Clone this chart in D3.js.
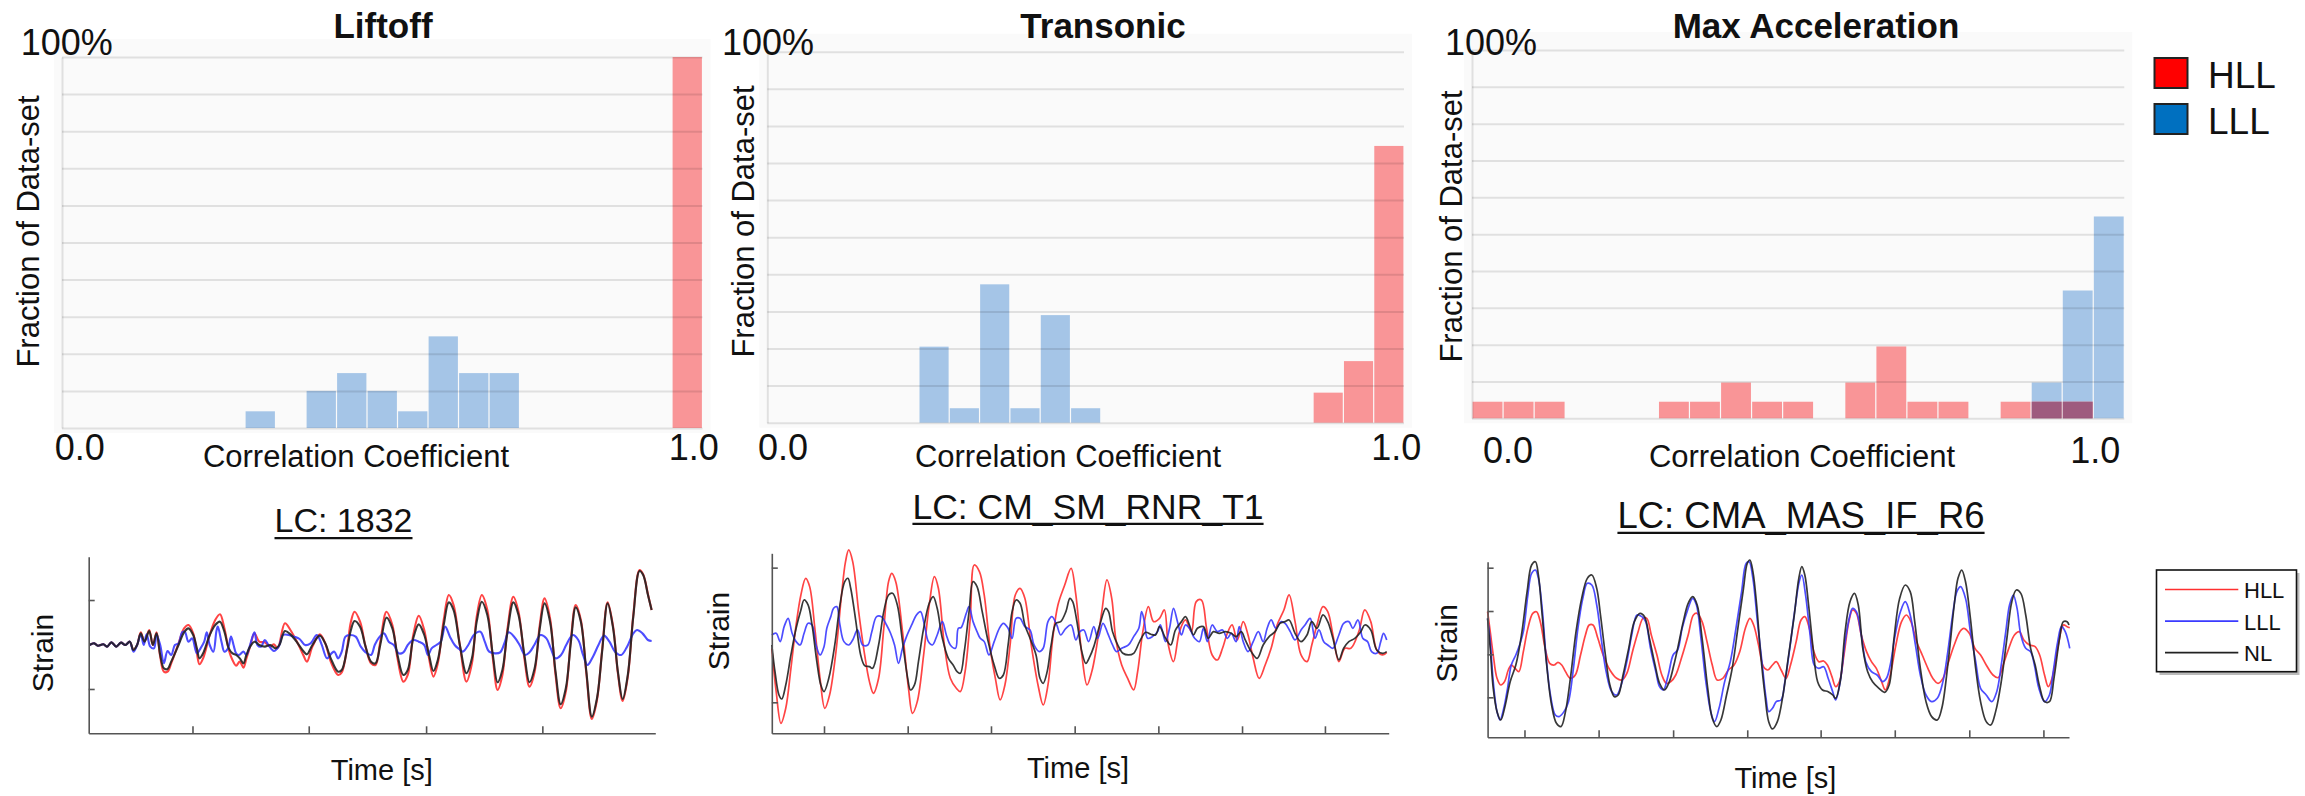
<!DOCTYPE html>
<html>
<head>
<meta charset="utf-8">
<script src="https://cdn.jsdelivr.net/npm/d3@7"></script>
<style>
  body { margin: 0; background: #fff; }
  text { font-family: "Liberation Sans", Arial, sans-serif; fill: #111; }
</style>
</head>
<body>
<svg id="fig" width="2305" height="796"></svg>
<script>
// 21 correlation bins, centred on 0.00, 0.05 ... 1.00
var binCenters = d3.range(21).map(function(i) { return i * 0.05 })
var pctTicks = d3.range(0, 101, 10)
var seriesNames = ['HLL', 'LLL', 'NL']

// fraction of data-set (%) in each bin
var liftoffHLL   = [0,0,0,0,0,0,0,0,0,0,0,0,0,0,0,0,0,0,0,0,100]
var liftoffLLL   = [0,0,0,0,0,0,4.5,0,10,14.8,10,4.5,24.7,14.8,14.8,0,0,0,0,0,0]
var transonicHLL = [0,0,0,0,0,0,0,0,0,0,0,0,0,0,0,0,0,0,8.1,16.6,74.6]
var transonicLLL = [0,0,0,0,0,20.5,3.9,37.3,3.9,29,3.9,0,0,0,0,0,0,0,0,0,0]
var maxAccHLL    = [4.5,4.5,4.5,0,0,0,4.5,4.5,9.7,4.5,4.5,0,9.7,19.5,4.5,4.5,0,4.5,4.5,4.5,0]
var maxAccLLL    = [0,0,0,0,0,0,0,0,0,0,0,0,0,0,0,0,0,0,9.7,34.7,54.8]

// strain time histories [time, strain] (arbitrary units)
var lc1832NL = [[12,0],[25,5],[35,-2],[50,2],[60,-5],[72,8],[85,-5],[98,7],[110,0],[122,10],[132,-15],[142,0],[152,35],[162,10],[175,42],[185,0],[195,35],[205,-30],[215,-70],[225,-72],[235,-50],[255,0],[270,38],[282,50],[295,30],[305,-10],[312,-40],[322,-25],[340,30],[355,60],[368,70],[380,40],[392,-10],[402,-25],[412,-30],[422,-40],[432,-55],[440,-30],[450,-5],[462,10],[475,0],[490,-5],[505,0],[520,-10],[530,0],[545,42],[560,32],[580,5],[595,-18],[605,-28],[620,0],[640,28],[655,5],[670,-40],[690,-80],[700,-75],[715,-10],[725,45],[735,72],[750,55],[765,-5],[780,-50],[792,-55],[805,0],[822,82],[838,50],[852,-30],[868,-90],[880,-75],[895,20],[910,62],[925,30],[938,-30],[950,-78],[962,-45],[978,60],[992,128],[1005,105],[1022,0],[1040,-85],[1055,-40],[1068,70],[1082,130],[1097,90],[1112,-30],[1125,-112],[1138,-75],[1152,40],[1168,128],[1182,90],[1198,-30],[1212,-112],[1226,-70],[1240,50],[1253,125],[1268,70],[1283,-80],[1297,-178],[1311,-130],[1325,10],[1338,113],[1352,70],[1367,-80],[1382,-215],[1396,-160],[1410,-20],[1425,125],[1440,50],[1453,-80],[1466,-162],[1480,-90],[1495,85],[1512,222],[1522,210],[1535,150],[1545,105]]
var lc1832HLL = [[12,0],[25,5],[35,-2],[50,2],[60,-5],[72,8],[85,-5],[98,7],[110,0],[122,10],[132,-15],[142,0],[152,38],[162,10],[175,45],[185,0],[195,38],[205,-35],[215,-80],[225,-80],[235,-55],[255,5],[270,50],[282,60],[295,35],[305,-25],[312,-58],[322,-40],[340,30],[355,75],[368,92],[380,50],[392,-15],[402,-45],[412,-62],[422,-50],[432,-68],[440,-40],[450,-5],[462,35],[475,10],[490,8],[505,-5],[515,2],[525,-10],[545,65],[560,45],[580,5],[595,-30],[605,-50],[620,-5],[640,32],[655,5],[670,-50],[690,-90],[700,-82],[715,-5],[725,70],[735,100],[750,70],[765,-5],[780,-55],[792,-60],[805,10],[822,100],[838,60],[852,-40],[868,-110],[880,-90],[895,30],[910,88],[925,45],[938,-40],[950,-95],[962,-55],[978,75],[992,150],[1005,120],[1022,0],[1040,-110],[1055,-55],[1068,85],[1082,150],[1097,105],[1112,-40],[1125,-135],[1138,-90],[1152,50],[1168,145],[1182,100],[1198,-40],[1212,-125],[1226,-80],[1240,60],[1253,140],[1268,80],[1283,-90],[1297,-190],[1311,-140],[1325,20],[1338,120],[1352,75],[1367,-85],[1382,-222],[1396,-165],[1410,-15],[1425,128],[1440,55],[1453,-85],[1466,-168],[1480,-95],[1495,90],[1512,225],[1522,212],[1535,152],[1545,105]]
var lc1832LLL = [[12,0],[25,5],[35,-2],[50,2],[60,-5],[72,8],[85,-5],[98,7],[110,0],[122,10],[132,-20],[142,0],[152,32],[160,0],[168,32],[178,-5],[188,-10],[195,30],[205,0],[215,-55],[225,-18],[235,-30],[245,0],[255,5],[265,38],[272,40],[282,10],[292,20],[305,-25],[315,-10],[325,10],[332,38],[340,0],[350,-20],[358,40],[362,55],[372,10],[380,-20],[390,-10],[398,25],[405,0],[412,-25],[420,-30],[432,-20],[440,-30],[450,0],[462,38],[470,0],[480,-5],[490,15],[500,0],[515,-18],[528,-5],[540,30],[555,30],[570,25],[585,18],[600,0],[615,5],[632,30],[645,2],[660,-40],[672,-25],[680,-20],[690,-40],[700,-20],[710,25],[722,30],[738,25],[752,-5],[765,-22],[780,-30],[790,0],[800,20],[815,35],[828,10],[842,0],[855,-25],[868,-22],[880,0],[895,15],[910,10],[925,0],[935,-30],[945,-10],[958,0],[970,10],[982,55],[995,25],[1008,0],[1020,-12],[1030,-20],[1045,0],[1060,30],[1078,40],[1090,10],[1102,-20],[1118,-25],[1132,-22],[1145,10],[1155,38],[1170,25],[1185,0],[1200,-30],[1212,-22],[1225,0],[1242,30],[1258,20],[1270,-10],[1283,-40],[1298,-30],[1312,0],[1330,30],[1345,15],[1358,-30],[1370,-60],[1385,-35],[1400,0],[1415,28],[1430,10],[1445,-20],[1462,-30],[1478,-5],[1495,35],[1505,45],[1520,35],[1535,15],[1545,12]]

var rnrNL = [[17,-30],[25,-110],[35,-180],[42,-192],[52,-150],[65,-60],[78,20],[90,75],[98,105],[108,90],[118,30],[130,-80],[140,-150],[148,-170],[160,-130],[175,-30],[188,90],[200,160],[208,170],[215,140],[228,40],[240,-60],[250,-92],[262,-95],[270,-100],[285,-30],[298,70],[310,120],[320,125],[332,90],[345,-20],[358,-130],[365,-165],[375,-150],[385,-80],[398,20],[412,95],[422,115],[432,80],[445,-10],[460,-70],[472,-90],[482,-110],[490,-115],[500,-50],[512,70],[522,160],[532,145],[545,70],[560,-20],[575,-90],[588,-130],[598,-120],[610,-30],[620,70],[630,105],[640,95],[652,30],[665,-10],[680,-60],[690,-130],[698,-145],[708,-110],[718,-30],[730,35],[742,40],[755,70],[765,110],[772,100],[782,45],[795,-50],[805,-85],[815,-65],[825,-35],[840,30],[855,80],[862,70],[872,10],[885,-30],[898,-55],[912,-60],[925,-55],[940,-20],[955,8],[968,2],[980,0],[990,25],[1005,-10],[1018,-30],[1030,15],[1045,40],[1055,55],[1065,30],[1075,0],[1085,20],[1100,25],[1112,-10],[1125,10],[1140,5],[1155,10],[1170,5],[1182,-5],[1195,10],[1205,-15],[1220,-50],[1235,-70],[1250,-30],[1265,-5],[1280,10],[1292,35],[1305,40],[1315,45],[1330,5],[1345,-20],[1360,0],[1372,40],[1385,20],[1400,60],[1412,40],[1425,-10],[1440,-75],[1452,-40],[1465,-20],[1480,-10],[1495,10],[1505,30],[1520,15],[1535,-45],[1550,-55],[1560,-50]]
var rnrHLL = [[17,-40],[28,-170],[40,-265],[52,-220],[65,-100],[78,30],[90,120],[102,170],[112,145],[125,20],[138,-130],[150,-220],[162,-180],[178,-50],[192,120],[202,220],[210,255],[220,220],[235,70],[250,-60],[262,-140],[272,-175],[285,-130],[298,20],[310,160],[318,185],[328,160],[345,10],[360,-160],[370,-235],[382,-200],[398,-60],[412,90],[425,175],[435,140],[450,-30],[465,-130],[480,-160],[490,-170],[502,-110],[515,50],[525,210],[538,190],[550,120],[565,-40],[578,-130],[590,-195],[602,-150],[615,-30],[628,120],[640,140],[652,110],[668,-30],[685,-150],[698,-210],[710,-150],[722,-10],[735,90],[752,150],[768,200],[780,120],[795,-60],[808,-150],[820,-110],[830,-50],[845,70],[858,165],[870,110],[880,-10],[895,-90],[910,-130],[925,-165],[935,-110],[948,10],[962,85],[975,40],[990,50],[1002,75],[1012,-30],[1025,-80],[1040,10],[1055,45],[1070,10],[1082,100],[1095,105],[1108,20],[1122,-60],[1135,-75],[1148,-40],[1160,5],[1172,30],[1185,-15],[1200,40],[1212,0],[1225,-70],[1240,-130],[1255,-90],[1270,-40],[1285,30],[1302,75],[1315,120],[1330,40],[1345,-60],[1360,-80],[1372,-30],[1385,30],[1400,85],[1412,70],[1425,0],[1440,-80],[1455,-40],[1470,-40],[1490,10],[1505,75],[1520,40],[1535,-45],[1550,-60],[1560,-52]]
var rnrLLL = [[17,0],[28,5],[38,-20],[48,25],[58,50],[68,5],[78,-20],[88,-30],[98,5],[108,35],[118,30],[128,-30],[138,-60],[148,-35],[155,20],[165,55],[172,80],[180,85],[188,30],[198,-20],[210,-30],[220,-15],[232,15],[245,-30],[258,-30],[268,10],[280,55],[292,55],[305,30],[315,5],[325,-30],[335,-85],[345,-40],[355,-5],[368,30],[380,60],[390,70],[400,30],[410,-20],[420,-30],[432,0],[445,40],[455,0],[465,-30],[478,-40],[485,20],[492,22],[505,65],[512,85],[522,40],[532,10],[540,-10],[550,-20],[562,-60],[575,-20],[588,20],[598,35],[610,20],[620,-10],[630,50],[640,50],[652,25],[665,15],[675,-30],[688,-50],[698,-40],[710,40],[720,55],[732,30],[742,0],[755,20],[768,30],[780,-15],[790,10],[800,15],[812,-20],[825,25],[835,-10],[848,35],[860,5],[872,-30],[882,-50],[895,-40],[912,-30],[925,-5],[938,20],[945,70],[952,40],[960,-10],[972,-5],[985,10],[992,30],[1005,-20],[1015,20],[1025,80],[1035,40],[1045,0],[1055,30],[1065,20],[1078,-10],[1090,-20],[1100,20],[1110,-20],[1122,30],[1135,10],[1148,15],[1160,-10],[1170,5],[1182,-20],[1190,25],[1200,-20],[1212,-50],[1225,-20],[1238,10],[1250,-20],[1260,20],[1270,45],[1282,20],[1295,40],[1305,35],[1318,10],[1330,-15],[1345,15],[1355,30],[1368,50],[1380,-10],[1390,15],[1402,-20],[1412,-30],[1425,-40],[1440,0],[1452,35],[1465,40],[1475,20],[1488,45],[1500,-10],[1512,-20],[1522,-50],[1535,-55],[1545,-20],[1552,5],[1560,-15]]

var r6NL = [[15,110],[22,20],[30,-100],[40,-170],[50,-195],[62,-150],[75,-80],[90,-30],[105,60],[120,190],[132,270],[142,280],[150,240],[160,120],[172,-30],[185,-150],[198,-205],[210,-215],[222,-170],[235,-70],[250,70],[265,170],[280,230],[292,240],[305,200],[315,120],[328,0],[340,-90],[352,-125],[362,-120],[375,-60],[390,20],[405,100],[420,125],[432,115],[445,50],[460,-30],[472,-85],[485,-105],[498,-80],[510,-30],[522,30],[535,100],[548,155],[560,175],[572,150],[585,50],[600,-100],[612,-190],[624,-215],[635,-195],[650,-120],[665,-40],[680,80],[695,200],[705,275],[712,285],[720,250],[730,150],[740,10],[752,-120],[762,-200],[772,-222],[785,-200],[800,-120],[815,0],[830,120],[842,230],[850,265],[858,240],[868,150],[880,20],[892,-80],[905,-105],[920,-110],[932,-120],[940,-130],[952,-80],[965,70],[978,160],[990,185],[1000,150],[1012,20],[1025,-50],[1038,-80],[1055,-100],[1070,-112],[1082,-90],[1095,50],[1110,170],[1125,210],[1138,190],[1150,100],[1165,-40],[1180,-140],[1195,-185],[1210,-195],[1222,-160],[1238,-30],[1255,150],[1265,230],[1275,255],[1285,220],[1298,110],[1312,-40],[1325,-140],[1340,-200],[1352,-210],[1365,-170],[1380,-80],[1395,50],[1408,160],[1420,195],[1432,185],[1445,120],[1458,20],[1470,-30],[1482,-95],[1495,-140],[1508,-140],[1520,-70],[1535,50],[1545,100],[1555,100],[1560,90]]
var r6LLL = [[15,110],[22,40],[30,-80],[40,-170],[48,-195],[58,-160],[68,-100],[78,-30],[90,0],[100,30],[110,70],[122,180],[132,245],[142,255],[150,230],[160,140],[170,0],[182,-120],[195,-180],[205,-185],[218,-170],[230,-140],[242,-50],[255,80],[268,170],[280,215],[292,210],[305,150],[318,40],[330,-50],[345,-110],[358,-120],[370,-90],[385,-20],[398,60],[412,120],[425,115],[435,100],[448,20],[462,-50],[472,-95],[482,-105],[495,-60],[508,0],[520,15],[532,80],[545,130],[560,170],[570,150],[582,50],[595,-80],[608,-170],[618,-200],[630,-160],[645,-80],[660,-20],[675,80],[690,190],[702,275],[710,280],[720,230],[732,100],[745,-30],[755,-130],[762,-170],[772,-160],[782,-140],[795,-135],[805,-80],[818,20],[832,140],[843,220],[850,240],[860,180],[872,60],[883,-30],[895,-40],[908,-35],[920,-70],[932,-110],[940,-135],[952,-80],[965,40],[978,120],[985,140],[995,130],[1008,60],[1020,-20],[1035,-50],[1050,-60],[1065,-80],[1075,-70],[1085,-30],[1098,60],[1112,130],[1125,160],[1138,120],[1152,30],[1165,-60],[1180,-120],[1195,-140],[1210,-130],[1225,-80],[1238,10],[1252,130],[1262,190],[1272,205],[1285,170],[1298,70],[1312,-20],[1325,-100],[1340,-120],[1355,-140],[1368,-110],[1380,-30],[1392,70],[1402,150],[1412,180],[1422,140],[1432,60],[1445,20],[1458,10],[1468,-30],[1480,-100],[1495,-140],[1508,-120],[1518,-50],[1530,40],[1540,85],[1550,70],[1562,20]]
var r6HLL = [[15,130],[22,70],[30,0],[40,-70],[50,-90],[60,-80],[70,-45],[78,-30],[88,-40],[98,-50],[110,10],[122,80],[135,125],[145,130],[155,100],[168,20],[180,-25],[192,-30],[202,-22],[212,-30],[222,-50],[235,-70],[248,-60],[262,0],[275,60],[285,90],[295,90],[308,50],[322,0],[340,-45],[358,-70],[372,-75],[385,-55],[400,10],[415,70],[428,110],[438,110],[450,60],[465,0],[478,-60],[490,-85],[502,-80],[515,-60],[530,-10],[548,60],[562,120],[572,125],[585,100],[598,40],[612,-30],[625,-75],[640,-70],[655,-45],[670,-30],[685,10],[700,80],[712,110],[722,90],[735,30],[748,-35],[760,-45],[772,-30],[782,-20],[795,-45],[808,-70],[820,-30],[835,40],[848,105],[858,115],[870,80],[882,10],[895,-20],[908,-18],[918,-30],[930,-65],[940,-95],[950,-80],[962,0],[975,100],[985,135],[995,125],[1008,60],[1022,10],[1035,-20],[1048,-40],[1062,-80],[1072,-105],[1085,-60],[1100,30],[1115,100],[1128,120],[1140,100],[1155,40],[1170,0],[1185,-40],[1198,-70],[1212,-85],[1225,-70],[1240,-20],[1255,30],[1270,70],[1280,80],[1295,65],[1310,20],[1325,0],[1340,-30],[1358,-60],[1372,-68],[1385,-30],[1400,20],[1415,60],[1428,70],[1440,45],[1455,30],[1470,25],[1482,0],[1495,-60],[1505,-95],[1515,-70],[1530,20],[1545,90],[1555,85],[1562,82]]

// axis ticks (unlabelled in the original)
var lc1832TimeTicks = [293, 610, 930, 1247]
var lc1832StrainTicks = [-132, 135]
var rnrTimeTicks = [148, 358, 567, 777, 987, 1197, 1405]
var rnrStrainTicks = [-202, 202]
var r6TimeTicks = [113, 310, 508, 705, 900, 1097, 1295, 1492]
var r6StrainTicks = [-127, 2, 132, 262]

var svg = d3.select('#fig')
var colHLL = '#f99597', colLLL = '#a5c5e7', colBoth = '#9e5b7e'
var lineColor = {HLL: '#ff3030', LLL: '#3a3aff', NL: '#222222'}

// ---------- histograms (top row) ----------
var histPanels = [
    {title: 'Liftoff', hll: liftoffHLL, lll: liftoffLLL, x0: 62, x1: 702.5, y0: 57, y1: 428,
     titleX: 383, pctX: 20.7, fracX: 39, fracY: 231.5, nudge0: 2, nudge1: 6, labY: 460, corrX: 356},
    {title: 'Transonic', hll: transonicHLL, lll: transonicLLL, x0: 767.3, x1: 1404, y0: 51.7, y1: 422.7,
     titleX: 1103, pctX: 722, fracX: 754, fracY: 221.5, nudge0: 0, nudge1: 7, labY: 460, corrX: 1068},
    {title: 'Max Acceleration', hll: maxAccHLL, lll: maxAccLLL, x0: 1472, x1: 2124.3, y0: 50, y1: 418.3,
     titleX: 1816, pctX: 1445, fracX: 1462, fracY: 226.5, nudge0: 20, nudge1: -14, labY: 463, corrX: 1802}
]

histPanels.forEach(function(p) {
    var x = d3.scaleLinear().domain([-0.025, 1.025]).range([p.x0, p.x1])
    var y = d3.scaleLinear().domain([0, 100]).range([p.y1, p.y0])
    var bw = x(0.05) - x(0)

    // light panel background
    svg.append('rect')
        .attr('x', p.x0 - 8).attr('y', p.y0 - 18)
        .attr('width', p.x1 - p.x0 + 16).attr('height', p.y1 - p.y0 + 23)
        .attr('fill', '#fafafa')

    var g = svg.append('g')

    function bars(vals, color) {
        g.selectAll(null)
            .data(binCenters.map(function(c, i) { return {c: c, v: vals[i]} }).filter(function(d) { return d.v > 0 }))
            .enter().append('rect')
            .attr('x', function(d) { return x(d.c - 0.025) + 0.6 })
            .attr('width', bw - 1.2)
            .attr('y', function(d) { return y(d.v) })
            .attr('height', function(d) { return y(0) - y(d.v) })
            .attr('fill', color)
    }
    bars(p.lll, colLLL)
    bars(p.hll, colHLL)
    // where both distributions share a bin the overlap shows darker
    bars(p.hll.map(function(v, i) { return Math.min(v, p.lll[i]) }), colBoth)

    // gridlines drawn over the bars
    var grid = svg.append('g')
        .attr('transform', 'translate(' + p.x0 + ',0)')
        .call(d3.axisLeft(y).tickValues(pctTicks).tickSize(-(p.x1 - p.x0)).tickSizeOuter(0).tickFormat(''))
    grid.selectAll('line').attr('stroke', 'rgba(0,0,0,0.1)').attr('stroke-width', 2)
    grid.select('.domain').attr('stroke', 'rgba(0,0,0,0.1)').attr('stroke-width', 2)

    // x labels 0.0 / 1.0
    var xa = svg.append('g')
        .attr('transform', 'translate(0,' + p.y1 + ')')
        .call(d3.axisBottom(x).tickValues([0, 1]).tickSize(0).tickFormat(d3.format('.1f')))
    xa.select('.domain').remove()
    xa.selectAll('text')
        .attr('y', p.labY - p.y1).attr('dy', 0)
        .attr('dx', function(d) { return d === 0 ? p.nudge0 : p.nudge1 })
        .style('font-size', '36px').style('font-family', '"Liberation Sans", Arial, sans-serif')
        .attr('fill', '#111')

    svg.append('text')
        .attr('x', p.titleX).attr('y', 38)
        .attr('text-anchor', 'middle')
        .style('font-size', '35px').style('font-weight', 'bold')
        .text(p.title)

    svg.append('text')
        .attr('x', p.pctX).attr('y', 55)
        .style('font-size', '36px')
        .text('100%')

    svg.append('text')
        .attr('transform', 'translate(' + p.fracX + ',' + p.fracY + ') rotate(-90)')
        .attr('text-anchor', 'middle')
        .style('font-size', '31px')
        .text('Fraction of Data-set')

    svg.append('text')
        .attr('x', p.corrX).attr('y', 467)
        .attr('text-anchor', 'middle')
        .style('font-size', '31px')
        .text('Correlation Coefficient')
})

// legend for the histograms
var legTop = [{name: 'HLL', color: '#ff0000', y: 58}, {name: 'LLL', color: '#0070c0', y: 104}]
legTop.forEach(function(d) {
    svg.append('rect')
        .attr('x', 2154.5).attr('y', d.y).attr('width', 33).attr('height', 30)
        .attr('fill', d.color).attr('stroke', '#222').attr('stroke-width', 2)
    svg.append('text')
        .attr('x', 2208).attr('y', d.y + 29.5)
        .style('font-size', '37px')
        .text(d.name)
})

// ---------- time histories (bottom row) ----------
var linePanels = [
    {title: 'LC: 1832', fs: 34, titleX: 343.5, titleY: 531.7, ul: 6.5, sw: 2.1,
     x0: 88.7, x1: 655.3, y0: 556.7, y1: 733.3, tDom: [10, 1555], vDom: [-265, 265],
     tTicks: lc1832TimeTicks, vTicks: lc1832StrainTicks, series: {HLL: lc1832HLL, LLL: lc1832LLL, NL: lc1832NL},
     strainX: 52.8, strainY: 653, timeX: 381.8, timeY: 780},
    {title: 'LC: CM_SM_RNR_T1', fs: 35.5, titleX: 1088, titleY: 519.3, ul: 4.5, sw: 1.7,
     x0: 771.8, x1: 1388.7, y0: 553.3, y1: 733.3, tDom: [17, 1565], vDom: [-295, 245],
     tTicks: rnrTimeTicks, vTicks: rnrStrainTicks, series: {HLL: rnrHLL, LLL: rnrLLL, NL: rnrNL},
     strainX: 729, strainY: 631, timeX: 1078, timeY: 778.3},
    {title: 'LC: CMA_MAS_IF_R6', fs: 36.5, titleX: 1801, titleY: 528.3, ul: 4.5, sw: 1.7,
     x0: 1487.6, x1: 2069, y0: 561.7, y1: 737.3, tDom: [15, 1560], vDom: [-247, 280],
     tTicks: r6TimeTicks, vTicks: r6StrainTicks, series: {HLL: r6HLL, LLL: r6LLL, NL: r6NL},
     strainX: 1456.7, strainY: 643.3, timeX: 1785.4, timeY: 788.3}
]

linePanels.forEach(function(p) {
    var x = d3.scaleLinear().domain(p.tDom).range([p.x0, p.x1])
    var y = d3.scaleLinear().domain(p.vDom).range([p.y1, p.y0])

    var line = d3.line()
        .x(function(d) { return x(d[0]) })
        .y(function(d) { return y(d[1]) })
        .curve(d3.curveCatmullRom.alpha(0.5))

    ;['HLL', 'LLL', 'NL'].forEach(function(k) {
        svg.append('path')
            .datum(p.series[k])
            .attr('d', line)
            .attr('fill', 'none')
            .attr('stroke', lineColor[k])
            .attr('stroke-width', p.sw)
            .attr('stroke-opacity', 0.9)
    })

    var ya = svg.append('g')
        .attr('transform', 'translate(' + p.x0 + ',0)')
        .call(d3.axisLeft(y).tickValues(p.vTicks).tickSize(-6).tickSizeOuter(0).tickFormat(''))
    var xa = svg.append('g')
        .attr('transform', 'translate(0,' + p.y1 + ')')
        .call(d3.axisBottom(x).tickValues(p.tTicks).tickSize(-7).tickSizeOuter(0).tickFormat(''))
    ;[ya, xa].forEach(function(a) {
        a.selectAll('line, path').attr('stroke', '#555').attr('stroke-width', 1.6)
    })

    var t = svg.append('text')
        .attr('x', p.titleX).attr('y', p.titleY)
        .attr('text-anchor', 'middle')
        .style('font-size', p.fs + 'px')
        .text(p.title)
    var len = t.node().getComputedTextLength()
    svg.append('line')
        .attr('x1', p.titleX - len / 2).attr('x2', p.titleX + len / 2)
        .attr('y1', p.titleY + p.ul).attr('y2', p.titleY + p.ul)
        .attr('stroke', '#111').attr('stroke-width', 2.2)

    svg.append('text')
        .attr('transform', 'translate(' + p.strainX + ',' + p.strainY + ') rotate(-90)')
        .attr('text-anchor', 'middle')
        .style('font-size', '30px')
        .text('Strain')

    svg.append('text')
        .attr('x', p.timeX).attr('y', p.timeY)
        .attr('text-anchor', 'middle')
        .style('font-size', '29px')
        .text('Time [s]')
})

// legend for the time histories
svg.append('rect')
    .attr('x', 2159.5).attr('y', 573).attr('width', 140).attr('height', 102)
    .attr('fill', '#bbb')
svg.append('rect')
    .attr('x', 2156.5).attr('y', 570).attr('width', 140).attr('height', 101.7)
    .attr('fill', '#fff').attr('stroke', '#111').attr('stroke-width', 1.6)
var legY = d3.scalePoint().domain(seriesNames).range([589.5, 652.7])
seriesNames.forEach(function(k) {
    svg.append('line')
        .attr('x1', 2165).attr('x2', 2238.3)
        .attr('y1', legY(k)).attr('y2', legY(k))
        .attr('stroke', lineColor[k]).attr('stroke-width', 1.7)
    svg.append('text')
        .attr('x', 2244).attr('y', legY(k) + 8.5)
        .style('font-size', '22px')
        .text(k)
})
</script>
</body>
</html>
